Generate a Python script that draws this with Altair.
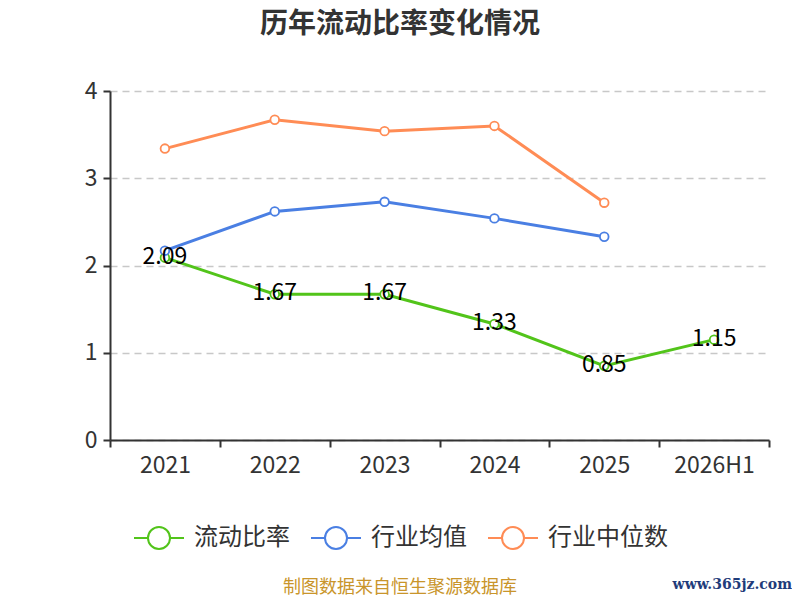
import altair as alt
import pandas as pd

years = ["2021", "2022", "2023", "2024", "2025", "2026H1"]
current_ratio = [2.09, 1.67, 1.67, 1.33, 0.85, 1.15]
industry_mean = [2.17, 2.62, 2.73, 2.54, 2.33]
industry_median = [3.34, 3.67, 3.54, 3.60, 2.72]
series_names = ["流动比率", "行业均值", "行业中位数"]
series_colors = ["#52C41A", "#4A7FE3", "#FF8C55"]

rows = []
for name, vals in zip(series_names, [current_ratio, industry_mean, industry_median]):
    for y, v in zip(years, vals):
        rows.append({"year": y, "value": v, "series": name, "label": f"{v:.2f}"})
df = pd.DataFrame(rows)

FONT = "Noto Sans CJK SC"

# symbol: short line, hollow circle, short line
sym = "M-1,0L-0.44,0M0.44,0L1,0M-0.44,0A0.44,0.44,0,1,0,0.44,0A0.44,0.44,0,1,0,-0.44,0"

x = alt.X("year:N", sort=years, title=None,
          scale=alt.Scale(paddingInner=0, paddingOuter=0),
          axis=alt.Axis(tickBand="extent", labelAngle=0, labelFontSize=23, labelColor="#333",
                        labelFont=FONT, labelPadding=7, domainColor="#333", domainWidth=2,
                        tickColor="#333", tickWidth=2, tickSize=7, grid=False))
y = alt.Y("value:Q", title=None,
          scale=alt.Scale(domain=[0, 4], nice=False),
          axis=alt.Axis(values=[0, 1, 2, 3, 4], format="d", labelFontSize=23, labelColor="#333",
                        labelFont=FONT, labelPadding=6, domainColor="#333", domainWidth=2,
                        tickColor="#333", tickWidth=2, tickSize=7,
                        grid=True, gridColor="#c8c8c8", gridDash=[7, 5], gridWidth=1.5))
color = alt.Color("series:N", sort=series_names, title=None,
                  scale=alt.Scale(domain=series_names, range=series_colors),
                  legend=alt.Legend(orient="none", direction="horizontal", legendX=23, legendY=421,
                                    symbolType=sym, symbolSize=2500, symbolStrokeWidth=2,
                                    labelFontSize=24, labelFont=FONT, labelColor="#333",
                                    columnPadding=17, labelOffset=9))

base = alt.Chart(df).encode(x=x, y=y)

lines = base.mark_line(strokeWidth=3).encode(color=color, order=alt.Order("series:N"))
points = base.mark_point(filled=True, fill="white", size=75, strokeWidth=1.8, opacity=1).encode(
    stroke=alt.Stroke("series:N", scale=alt.Scale(domain=series_names, range=series_colors), legend=None))
labels = alt.Chart(df[df.series == "流动比率"]).mark_text(
    font=FONT, fontSize=23, color="black", baseline="middle", dy=-1).encode(
    x=alt.X("year:N", sort=years), y="value:Q", text="label:N")

title = alt.Chart(pd.DataFrame({"t": ["历年流动比率变化情况"]})).mark_text(
    font=FONT, fontSize=28, fontWeight="bold", color="#333").encode(
    x=alt.value(290), y=alt.value(-66), text="t:N")
footer = alt.Chart(pd.DataFrame({"t": ["制图数据来自恒生聚源数据库"]})).mark_text(
    font=FONT, fontSize=18, color="#C9952B").encode(
    x=alt.value(290), y=alt.value(497), text="t:N")
mark = alt.Chart(pd.DataFrame({"t": ["www.365jz.com"]})).mark_text(
    font="DejaVu Serif", fontWeight="bold", fontSize=14, color="#1F3C7A", align="right").encode(
    x=alt.value(682), y=alt.value(494), text="t:N")

chart = alt.layer(lines, points, labels, title, footer, mark).properties(
    width=659, height=349,
    autosize=alt.AutoSizeParams(type="none"),
    padding={"left": 102, "top": 83, "right": 23, "bottom": 160},
).resolve_scale(color="independent").configure_view(stroke=None)

chart.save("out.html", embed_options={"renderer": "svg", "actions": False})
